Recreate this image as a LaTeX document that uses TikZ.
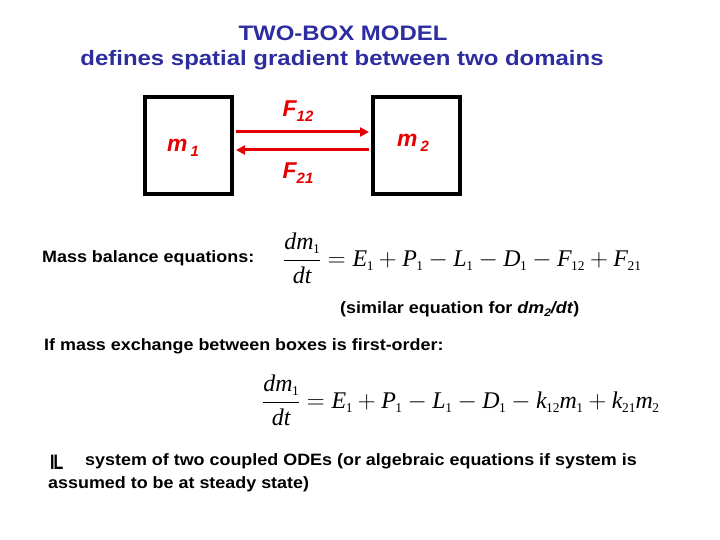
\documentclass[tikz,border=0pt]{standalone}
\usepackage{fontspec}
\setmainfont{Liberation Sans}
\newfontfamily\widefont{Liberation Sans}[FakeStretch=1.09]
\newfontfamily\titlefont{Liberation Sans}[FakeStretch=1.145]
\newfontfamily\tms{Liberation Serif}
\usetikzlibrary{arrows.meta}
\definecolor{titleblue}{RGB}{45,45,160}
\definecolor{boxred}{RGB}{230,0,0}
\newcommand{\vv}[2]{\hbox{\tms\itshape #1\kern-0.5bp\raisebox{-4bp}{\fontsize{13.5}{14}\selectfont\upshape #2}}}
\newcommand{\redsub}[2]{#1\raisebox{-5bp}{\fontsize{15}{15}\selectfont #2}}
\tikzset{
  boxstyle/.style={draw=black, line width=4bp, minimum width=87bp, minimum height=97bp, inner sep=0pt},
  flowarrow/.style={draw=boxred, line width=3bp, -{Triangle[length=9bp,width=9bp]}},
  redlbl/.style={text=boxred, font=\fontsize{23}{26}\selectfont\bfseries\itshape, inner sep=0pt},
  bodytext/.style={font=\widefont\fontsize{16.5}{19}\selectfont\bfseries, inner sep=0pt, anchor=west},
  eqn/.style={font=\fontsize{24}{29}\selectfont, inner sep=0pt},
  titletext/.style={text=titleblue, font=\titlefont\fontsize{21}{24}\selectfont\bfseries, inner sep=0pt}
}
\begin{document}
\begin{tikzpicture}[x=1bp,y=-1bp]
\useasboundingbox (0,0) rectangle (720,540);
% title
\node[titletext] (t1) at (343,33) {TWO-BOX MODEL};
\node[titletext] (t2) at (342,60) {defines spatial gradient between two domains};
% boxes
\node[boxstyle] (box1) at (188.5,146) {};
\node[boxstyle] (box2) at (416.5,146) {};
\node[redlbl] (m1) at (183,148) {m\hspace{3bp}\raisebox{-5bp}{\fontsize{15}{15}\selectfont 1}};
\node[redlbl] (m2) at (413,143) {m\hspace{3bp}\raisebox{-5bp}{\fontsize{15}{15}\selectfont 2}};
\draw[flowarrow] ([yshift=14bp,xshift=2bp]box1.east) -- ([yshift=14bp,xshift=-2bp]box2.west);
\draw[flowarrow] ([yshift=-4bp,xshift=-2bp]box2.west) -- ([yshift=-4bp,xshift=2bp]box1.east);
\node[redlbl] (f12) at (298,111) {\redsub{F}{12}};
\node[redlbl] (f21) at (298,173) {\redsub{F}{21}};
% mass balance
\node[bodytext] (mb) at (42,258) {Mass balance equations:};
\node[eqn, anchor=west] (eq1) at (283,258) {$\displaystyle \frac{\vv{dm}{1}}{\hbox{\tms\itshape dt}} = \vv{E}{1} + \vv{P}{1} - \vv{L}{1} - \vv{D}{1} - \vv{F}{12} + \vv{F}{21}$};
\node[bodytext] (sim) at (340,309) {(similar equation for \textit{dm\raisebox{-3bp}{\fontsize{11}{11}\selectfont 2}/dt})};
\node[bodytext] (fo) at (44,346) {If mass exchange between boxes is first-order:};
\node[eqn, anchor=west] (eq2) at (262,400) {$\displaystyle \frac{\vv{dm}{1}}{\hbox{\tms\itshape dt}} = \vv{E}{1} + \vv{P}{1} - \vv{L}{1} - \vv{D}{1} - \vv{k}{12}\vv{m}{1} + \vv{k}{21}\vv{m}{2}$};
\node[bodytext] (gl) at (50,462) {\fontsize{21}{21}\selectfont\scalebox{0.7}[1]{I\kern-1.5bp L}};
\node[bodytext] (sys) at (85,461) {system of two coupled ODEs (or algebraic equations if system is};
\node[bodytext] (sys2) at (48,484) {assumed to be at steady state)};
\end{tikzpicture}
\end{document}
